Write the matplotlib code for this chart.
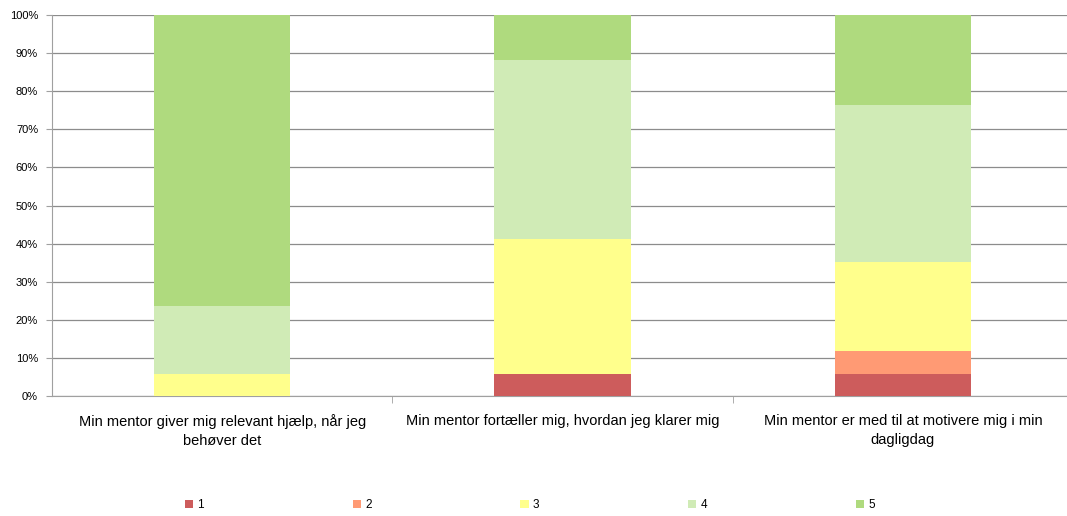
import matplotlib.pyplot as plt
import numpy as np

plt.rcParams['font.family'] = ['Liberation Sans', 'DejaVu Sans']

spoergsmaal = ['Min mentor giver mig relevant hjælp, når jeg\nbehøver det',
               'Min mentor fortæller mig, hvordan jeg klarer mig',
               'Min mentor er med til at motivere mig i min\ndagligdag']
svar = ['1', '2', '3', '4', '5']
# andel i procent for hvert svar (1-5)
andel_1 = [0.0, 5.9, 5.9]
andel_2 = [0.0, 0.0, 5.9]
andel_3 = [5.9, 35.3, 23.5]
andel_4 = [17.6, 47.0, 41.2]
andel_5 = [76.5, 11.8, 23.5]
farver = ['#CD5C5C', '#FF9A74', '#FFFF8C', '#D0EBB6', '#AFDA7E']

fig = plt.figure(figsize=(10.67, 5.16), dpi=100)
ax = fig.add_axes([52/1067, 120/516, 1015/1067, 381/516])

x = np.arange(len(spoergsmaal))
bund = np.zeros(len(spoergsmaal))
for navn, vaerdi, farve in zip(svar, [andel_1, andel_2, andel_3, andel_4, andel_5], farver):
    ax.bar(x, vaerdi, 0.4, bottom=bund, color=farve, label=navn, zorder=3)
    bund = bund + np.array(vaerdi)

ax.set_ylim(0, 100)
ax.set_xlim(-0.5, 2.482)
ax.set_yticks(range(0, 101, 10))
ax.set_yticklabels([f'{v}%' for v in range(0, 101, 10)], fontsize=8)
ax.yaxis.grid(True, color='#8c8c8c', linewidth=0.9, zorder=0)
ax.set_xticks(x)
ax.set_xticklabels(spoergsmaal, fontsize=10.5, linespacing=1.45)
ax.tick_params(axis='x', length=0, pad=13)
ax.set_xticks([0.5, 1.5], minor=True)
ax.tick_params(axis='x', which='minor', length=5, color='#a0a0a0')
ax.tick_params(axis='y', length=4, color='#a0a0a0', pad=6)
for s in ['top', 'right']:
    ax.spines[s].set_visible(False)
ax.spines['left'].set_color('#a0a0a0')
ax.spines['bottom'].set_color('#a0a0a0')

fig.legend(loc='center', bbox_to_anchor=(530/1067, 1 - 505/516), ncol=5, frameon=False,
           fontsize=8.5, handlelength=0.7, handleheight=0.7, handletextpad=0.35,
           columnspacing=12.6)

plt.savefig('out.png', dpi=100)
